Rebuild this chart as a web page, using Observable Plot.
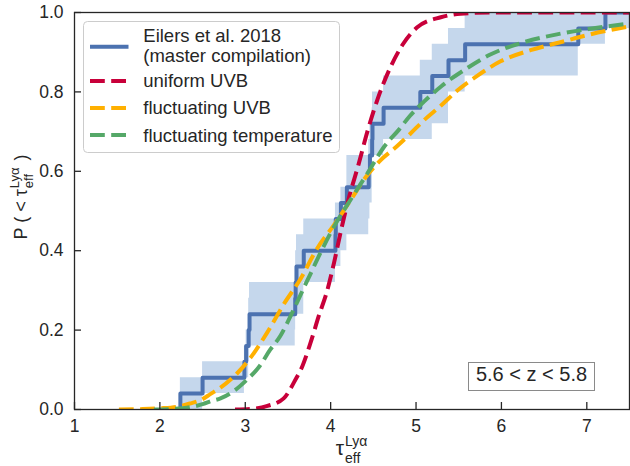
<!DOCTYPE html>
<html><head><meta charset="utf-8">
<script src="https://cdn.jsdelivr.net/npm/d3@7"></script>
<script src="https://cdn.jsdelivr.net/npm/@observablehq/plot@0.6"></script>
<style>html,body{margin:0;padding:0;background:#fff;}</style>
</head><body><div id="chart"></div>
<script>
const xDomain = [1, 7.5];
const yDomain = [0, 1];
const xTicks = [1, 2, 3, 4, 5, 6, 7];
const yTicks = [0, 0.2, 0.4, 0.6, 0.8, 1.0];

// Eilers et al. 2018 (master compilation): empirical CDF steps
const obsTau = [2.24, 2.50, 2.99, 3.01, 3.04, 3.05, 3.585, 3.59, 3.60, 3.685, 4.056, 4.06, 4.12, 4.19, 4.446, 4.46, 4.486, 4.49, 4.62, 5.05, 5.19, 5.38, 5.575, 6.90, 7.218];
const obsP   = [0.04, 0.08, 0.12, 0.16, 0.20, 0.24, 0.28, 0.32, 0.36, 0.40, 0.44, 0.48, 0.52, 0.56, 0.60, 0.64, 0.68, 0.72, 0.76, 0.80, 0.84, 0.88, 0.92, 0.96, 1.00];
const bandLo = [0.00, 0.04, 0.08, 0.08, 0.12, 0.16, 0.20, 0.24, 0.24, 0.32, 0.36, 0.36, 0.40, 0.44, 0.48, 0.52, 0.56, 0.64, 0.68, 0.68, 0.72, 0.80, 0.84, 0.92, 0.96];
const bandHi = [0.08, 0.12, 0.16, 0.20, 0.28, 0.32, 0.36, 0.40, 0.44, 0.48, 0.52, 0.52, 0.56, 0.64, 0.68, 0.72, 0.76, 0.80, 0.84, 0.88, 0.92, 0.96, 1.00, 1.00, 1.00];

// uniform UVB model
const redTau = [2.88, 3.10, 3.26, 3.45, 3.60, 3.65, 3.76, 3.86, 3.96, 4.04, 4.12, 4.21, 4.33, 4.43, 4.58, 4.70, 4.84, 5.01, 5.29, 5.52, 5.90, 7.5];
const redP   = [0.0, 0.002, 0.009, 0.028, 0.08, 0.10, 0.165, 0.235, 0.30, 0.37, 0.45, 0.53, 0.62, 0.70, 0.80, 0.862, 0.918, 0.962, 0.988, 0.997, 1.0, 1.0];

// fluctuating UVB model
const orTau = [1.52, 1.8, 2.0, 2.2, 2.35, 2.48, 2.6, 2.71, 2.9, 3.06, 3.26, 3.45, 3.65, 3.84, 4.04, 4.23, 4.41, 4.58, 4.76, 4.93, 5.09, 5.29, 5.48, 5.72, 5.99, 6.34, 6.69, 7.04, 7.5];
const orP   = [0.0, 0.001, 0.003, 0.007, 0.015, 0.024, 0.04, 0.055, 0.09, 0.13, 0.195, 0.265, 0.33, 0.405, 0.465, 0.526, 0.585, 0.627, 0.66, 0.694, 0.728, 0.765, 0.803, 0.841, 0.877, 0.905, 0.925, 0.945, 0.965];

// fluctuating temperature model
const grTau = [1.93, 2.12, 2.36, 2.51, 2.6, 2.71, 2.87, 3.02, 3.16, 3.29, 3.41, 3.53, 3.65, 3.76, 3.87, 4.056, 4.25, 4.446, 4.62, 4.80, 4.93, 5.09, 5.3, 5.6, 5.87, 6.26, 6.65, 7.04, 7.5];
const grP   = [0.0, 0.001, 0.006, 0.014, 0.021, 0.028, 0.047, 0.075, 0.107, 0.15, 0.185, 0.235, 0.29, 0.34, 0.39, 0.467, 0.534, 0.60, 0.66, 0.705, 0.74, 0.775, 0.815, 0.86, 0.894, 0.925, 0.945, 0.959, 0.972];

const legendLabels = [["Eilers et al. 2018", "(master compilation)"], ["uniform UVB"], ["fluctuating UVB"], ["fluctuating temperature"]];
const seriesColors = ["#4c72b0", "#c8003a", "#ffb000", "#55a868"];
const redshiftLabel = "5.6 < z < 5.8";

const FONT = "'Liberation Sans', Arial, sans-serif";
const INK = "#262626";
const DASH = "14.8,6.4";

const obsRows = [{tau: obsTau[0], p: 0}, ...obsTau.map((t, i) => ({tau: t, p: obsP[i]})), {tau: xDomain[1], p: obsP[obsP.length - 1]}];
const bandRows = [...obsTau.map((t, i) => ({tau: t, lo: bandLo[i], hi: bandHi[i]})), {tau: xDomain[1], lo: bandLo[bandLo.length - 1], hi: bandHi[bandHi.length - 1]}];
const toRows = (T, P) => T.map((t, i) => ({tau: t, p: P[i]}));

const plot = Plot.plot({
  width: 630, height: 466,
  marginLeft: 74, marginRight: 1, marginTop: 12, marginBottom: 57,
  x: {domain: xDomain},
  y: {domain: yDomain},
  style: {fontFamily: FONT, fontSize: "17.5px", color: INK, background: "white", overflow: "visible"},
  marks: [
    Plot.areaY(bandRows, {x: "tau", y1: "lo", y2: "hi", curve: "step-after", fill: "#c5d7ec", clip: true}),
    Plot.line(obsRows, {x: "tau", y: "p", curve: "step-after", stroke: seriesColors[0], strokeWidth: 4, clip: true}),
    Plot.line(toRows(redTau, redP), {x: "tau", y: "p", curve: "monotone-x", stroke: seriesColors[1], strokeWidth: 4, strokeDasharray: DASH, strokeLinecap: "butt", clip: true}),
    Plot.line(toRows(orTau, orP), {x: "tau", y: "p", curve: "monotone-x", stroke: seriesColors[2], strokeWidth: 4, strokeDasharray: DASH, strokeLinecap: "butt", clip: true}),
    Plot.line(toRows(grTau, grP), {x: "tau", y: "p", curve: "monotone-x", stroke: seriesColors[3], strokeWidth: 4, strokeDasharray: DASH, strokeLinecap: "butt", clip: true}),
    Plot.frame({stroke: INK, strokeWidth: 1.3}),
    Plot.tickX(xTicks, {x: d => d, insetTop: 390, stroke: INK, strokeWidth: 1.3}),
    Plot.tickY(yTicks, {y: d => d, insetRight: 548, stroke: INK, strokeWidth: 1.3}),
    Plot.axisX({ticks: xTicks, tickSize: 0, tickPadding: 10, fontSize: 17.5, tickFormat: d3.format("d"), label: null}),
    Plot.axisY({ticks: yTicks, tickSize: 0, tickPadding: 11, fontSize: 17.5, tickFormat: d3.format(".1f"), label: null})
  ]
});
document.getElementById("chart").appendChild(plot);

const svg = d3.select(plot);

// Legend
const lg = svg.append("g").attr("font-family", FONT).attr("font-size", 18.5).attr("fill", INK).attr("text-anchor", "start");
lg.append("rect").attr("x", 83.5).attr("y", 21.5).attr("width", 256).attr("height", 131).attr("rx", 4)
  .attr("fill", "white").attr("fill-opacity", 0.8).attr("stroke", "#cccccc").attr("stroke-width", 1);
const lineY = [46.7, 81, 108, 135];
const textY = [[41.7, 61.7], [87.3], [114.3], [141.7]];
legendLabels.forEach((lab, i) => {
  lg.append("line").attr("x1", 90).attr("x2", 128.5).attr("y1", lineY[i]).attr("y2", lineY[i])
    .attr("stroke", seriesColors[i]).attr("stroke-width", 4)
    .attr("stroke-dasharray", i === 0 ? null : DASH);
  lab.forEach((s, j) => {
    lg.append("text").attr("x", 143.3).attr("y", textY[i][j]).attr("text-anchor", "start").text(s);
  });
});

// Redshift annotation
const an = svg.append("g").attr("font-family", FONT).attr("fill", INK);
an.append("rect").attr("x", 468.5).attr("y", 362.5).attr("width", 126).attr("height", 28)
  .attr("fill", "white").attr("stroke", "#8a8a8a").attr("stroke-width", 1);
an.append("text").attr("x", 531.5).attr("y", 381).attr("text-anchor", "middle").attr("font-size", 20).text(redshiftLabel);

// tau_eff^{Lya} labels
function tauLabel(g, mainSize, scriptSize, prefix, suffix) {
  const t = g.append("text").attr("font-family", FONT).attr("fill", INK).attr("font-size", mainSize).attr("text-anchor", "start");
  t.append("tspan").text(prefix + "τ");
  const sup = t.append("tspan").attr("font-size", scriptSize).attr("dy", -0.42 * mainSize).attr("dx", 1).text("Lyα");
  const w = sup.node().getComputedTextLength();
  const sub = t.append("tspan").attr("font-size", scriptSize).attr("dx", -w).attr("dy", 0.78 * mainSize).text("eff");
  const ws = sub.node().getComputedTextLength();
  if (suffix) t.append("tspan").attr("font-size", mainSize).attr("dy", -0.36 * mainSize).attr("dx", Math.max(0, w - ws) + 2).text(suffix);
  return t;
}
const xl = svg.append("g");
const xt = tauLabel(xl, 21, 14, "", "");
const xb = xt.node().getBBox();
xl.attr("transform", `translate(${351.5 - xb.width / 2 - xb.x},455)`);

const yl = svg.append("g");
const yt = tauLabel(yl, 18, 13, "P ( < ", " )");
const yb = yt.node().getBBox();
yl.attr("transform", `translate(27,${197 + yb.width / 2 + yb.x}) rotate(-90)`);
</script>
</body></html>
